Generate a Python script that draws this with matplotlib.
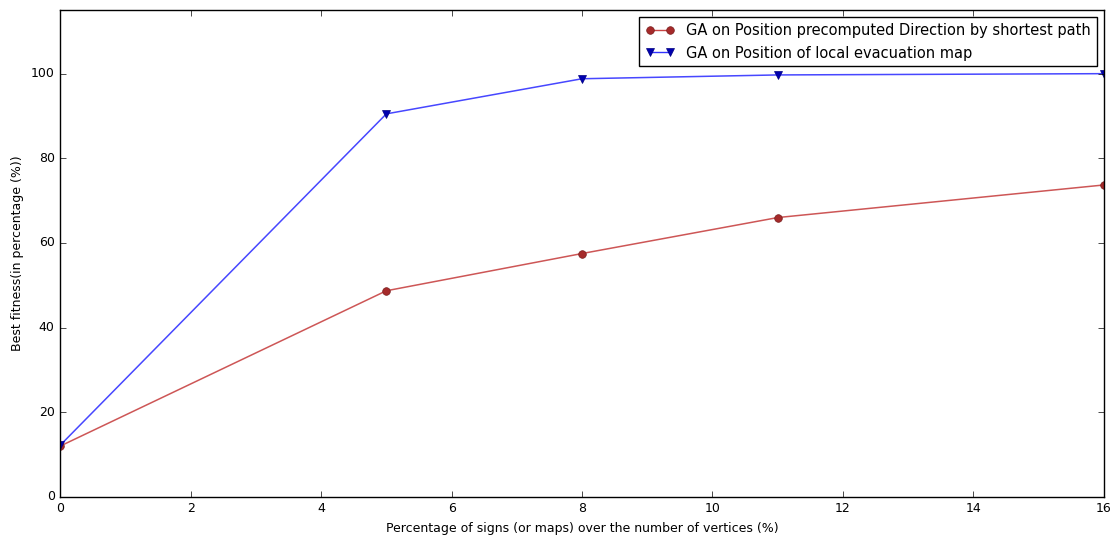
import matplotlib
matplotlib.use("Agg")
import matplotlib.pyplot as plt

# percentage of signs (or maps) over number of vertices
sign_pct = [0, 5, 8, 11, 16]
fitness_shortest = [12.0, 48.7, 57.5, 66.0, 73.7]
fitness_local = [12.2, 90.5, 98.8, 99.7, 100.0]

plt.style.use("classic")
fig = plt.figure(figsize=(11.15, 5.36), dpi=100, facecolor="white")
ax = fig.add_axes([0.054, 0.073, 0.936, 0.908])

ax.plot(sign_pct, fitness_shortest, "-", color="#c84444", alpha=0.9, lw=1.1)
ax.plot(sign_pct, fitness_shortest, "o", color="#a52a2a", ms=5.5, mec="#7a2020")
ax.plot(sign_pct, fitness_local, "-", color="#3333ff", alpha=0.9, lw=1.1)
ax.plot(sign_pct, fitness_local, "v", color="#0000b0", ms=5.5, mec="#000080")

# legend proxies (line + markers at both ends)
h1, = ax.plot([], [], "o-", color="#c84444", mfc="#a52a2a", mec="#7a2020", ms=5.5)
h2, = ax.plot([], [], "v-", color="#3333ff", mfc="#0000b0", mec="#000080", ms=5.5)
ax.legend([h1, h2], ["GA on Position precomputed Direction by shortest path",
                     "GA on Position of local evacuation map"],
          loc="upper right", numpoints=2, fontsize=10.5, borderaxespad=0.5,
          handlelength=2.0, fancybox=False)

ax.set_xlim(0, 16)
ax.set_ylim(0, 115)
ax.set_yticks([0, 20, 40, 60, 80, 100])
ax.set_xticks(range(0, 17, 2))
ax.tick_params(labelsize=9)
ax.set_xlabel("Percentage of signs (or maps) over the number of vertices (%)", fontsize=9)
ax.set_ylabel("Best fitness(in percentage (%))", fontsize=9)

fig.savefig("out.png", dpi=100, facecolor="white")
